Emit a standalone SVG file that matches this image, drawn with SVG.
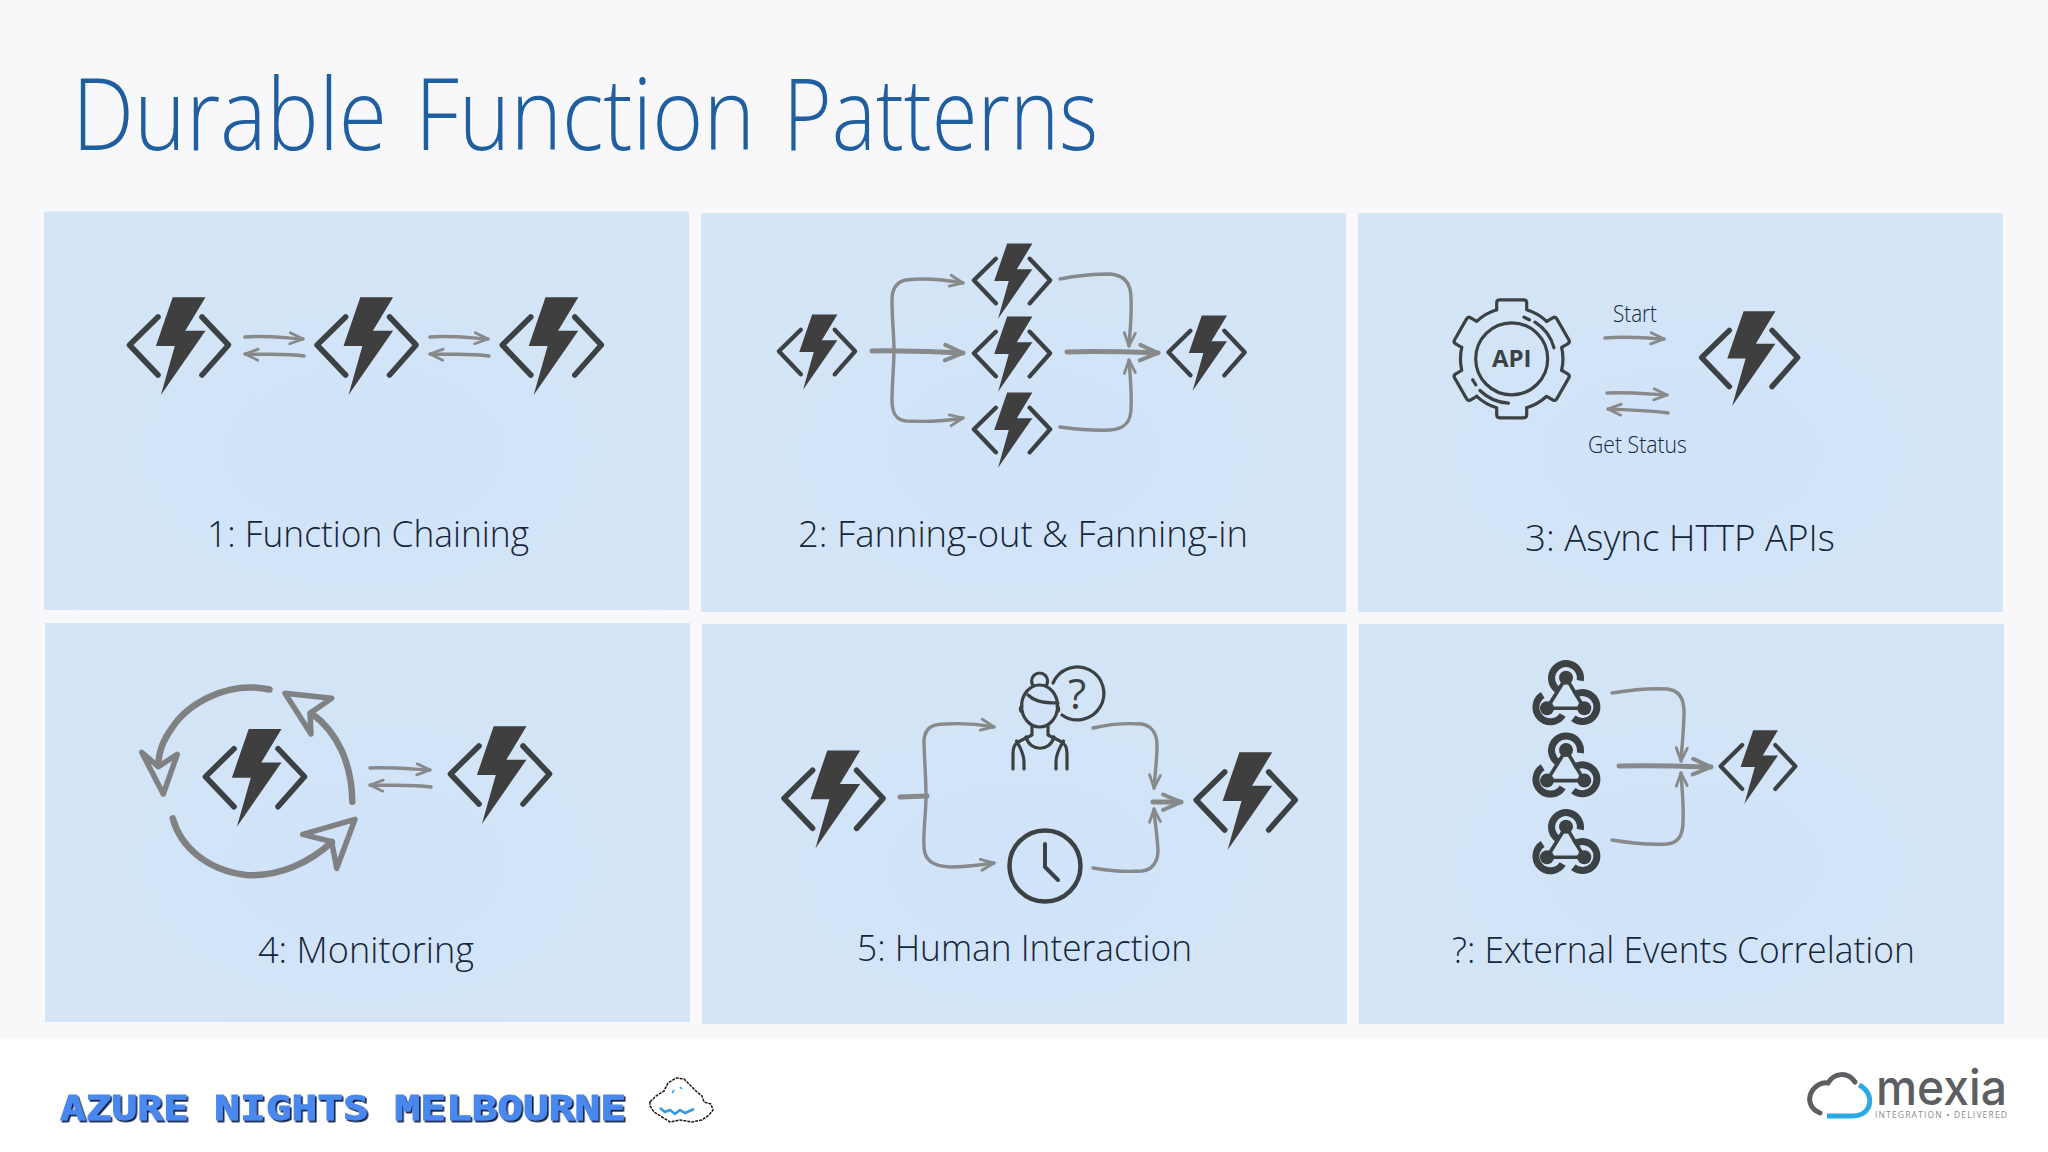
<svg xmlns="http://www.w3.org/2000/svg" width="2048" height="1152" viewBox="0 0 2048 1152">
<style>
.panel{fill:url(#pg)}
.title{font-family:"Open Sans","Liberation Sans",sans-serif;font-weight:300;font-size:99px;fill:#1f5f9f}
.label{font-family:"Open Sans","Liberation Sans",sans-serif;font-weight:300;font-size:37px;fill:#15263a}
.small{font-family:"Open Sans","Liberation Sans",sans-serif;font-weight:300;font-size:23px;fill:#15263a}
.bolt{fill:#3f3f40}
.br{fill:none;stroke:#3c4144;stroke-width:5.6;stroke-linecap:round;stroke-linejoin:round}
.c{fill:none;stroke:#87898b;stroke-width:3.4;stroke-linecap:round;stroke-linejoin:round}
.cm{marker-end:url(#am)}
.t{fill:none;stroke:#87898b;stroke-width:5;stroke-linecap:round;marker-end:url(#al)}
.loop{fill:none;stroke:#808183;stroke-width:6.5;stroke-linecap:round;stroke-linejoin:round}
.tri{fill:none;stroke:#808183;stroke-width:5.5;stroke-linecap:round;stroke-linejoin:round}
.ic{fill:none;stroke:#3c4144;stroke-width:3.2;stroke-linecap:round;stroke-linejoin:round}
.wh{fill:none;stroke:#3c4144;stroke-width:7;stroke-linecap:butt}
.wl{fill:none;stroke:#3c4144;stroke-width:3.6}
.dot{fill:#3c4144}
</style>
<defs>
<radialGradient id="pg" cx="50%" cy="60%" r="65%"><stop offset="0" stop-color="#d1e3f9"/><stop offset="1" stop-color="#d4e5f5"/></radialGradient>
<marker id="am" markerUnits="userSpaceOnUse" markerWidth="24" markerHeight="24" viewBox="-20 -12 24 24" refX="0" refY="0" orient="auto"><path d="M-13,-5.5 L0,0 L-13,5.5" fill="none" stroke="#87898b" stroke-width="2.8" stroke-linecap="round" stroke-linejoin="round"/></marker>
<marker id="al" markerUnits="userSpaceOnUse" markerWidth="30" markerHeight="30" viewBox="-24 -15 30 30" refX="0" refY="0" orient="auto"><path d="M-18,-7.5 L0,0 L-18,8" fill="none" stroke="#87898b" stroke-width="4" stroke-linecap="round" stroke-linejoin="round"/></marker>
<filter id="px" x="-2%" y="-20%" width="104%" height="140%"><feDropShadow dx="1.6" dy="1.8" stdDeviation="0" flood-color="#0e1c44"/></filter>
<g id="fn">
<path class="bolt" d="M-6.3,-48.7 L26.5,-48.7 L6.3,-15.3 L26.5,-15.3 L-18.1,49 L-4.2,0 L-23.1,0 Z"/>
<path class="br" d="M-21,-29 L-49.5,-1 L-21,29 M23,-29 L49.5,-1 L23,29"/>
</g>
<g id="hook">
<path class="wl" d="M0,-17.3 L-19,13.3 L18.3,13.3 Z"/>
<circle class="dot" cx="0" cy="-17.3" r="7"/><circle class="dot" cx="-19" cy="13.3" r="7"/><circle class="dot" cx="18.3" cy="13.3" r="7"/>
<path class="wh" d="M14.3,-14.3 A14.5,14.5 0 1 0 -8.3,-5 M-23.3,0 A14.5,14.5 0 1 0 -3.3,20 M7.3,23.3 A14.5,14.5 0 1 0 8.3,0"/>
</g>
<path id="tooth" d="M-15,-49 V-56 Q-15,-59 -12,-59 H12 Q15,-59 15,-56 V-49 A51.2,51.2 0 0 1 34.9,-37.5" class="ic"/>
</defs>
<rect width="2048" height="1152" fill="#f8f8fa"/>
<rect y="1038" width="2048" height="114" fill="#ffffff"/>
<text class="title" y="150"><tspan x="72" textLength="315" lengthAdjust="spacingAndGlyphs">Durable</tspan> <tspan x="415" textLength="340" lengthAdjust="spacingAndGlyphs">Function</tspan> <tspan x="783" textLength="315" lengthAdjust="spacingAndGlyphs">Patterns</tspan></text>

<g id="panel-1"><rect class="panel" x="44" y="211.5" width="645" height="398.5"/><text class="label" x="207" y="547" textLength="322" lengthAdjust="spacingAndGlyphs">1: Function Chaining</text></g>
<g id="panel-2"><rect class="panel" x="701" y="213" width="645" height="399"/><text class="label" x="798" y="547" textLength="450" lengthAdjust="spacingAndGlyphs">2: Fanning-out &amp; Fanning-in</text></g>
<g id="panel-3"><rect class="panel" x="1358" y="213" width="645" height="399"/><text class="label" x="1525" y="551" textLength="310" lengthAdjust="spacingAndGlyphs">3: Async HTTP APIs</text></g>
<g id="panel-4"><rect class="panel" x="45" y="623" width="645" height="399"/><text class="label" x="258" y="963" textLength="216" lengthAdjust="spacingAndGlyphs">4: Monitoring</text></g>
<g id="panel-5"><rect class="panel" x="702" y="624" width="645" height="400"/><text class="label" x="857" y="961" textLength="335" lengthAdjust="spacingAndGlyphs">5: Human Interaction</text></g>
<g id="panel-6"><rect class="panel" x="1359" y="624" width="645" height="400"/><text class="label" x="1452" y="963" textLength="463" lengthAdjust="spacingAndGlyphs">?: External Events Correlation</text></g>

<g id="connectors">
<path class="c cm" d="M245,337 C265,335 285,338 303,339"/>
<path class="c cm" d="M304,356 C285,353 265,355 245,354"/>
<path class="c cm" d="M430,337 C450,335 470,338 488,339"/>
<path class="c cm" d="M489,356 C470,353 450,355 430,354"/>
<path class="c cm" d="M894,350 C894,335 892,320 892,300 C892,290 896,282 906,280 C921,278 941,279 963,283"/>
<path class="c cm" d="M894,350 C894,365 892,385 892,400 C892,412 895,420 906,421 C926,422 946,421 963,418"/>
<path class="t" d="M872,351 C900,350 935,352 963,353"/>
<path class="c cm" d="M1060,279 C1075,276 1095,274 1110,274 C1125,275 1131,284 1131,298 C1132,315 1130,330 1129,346"/>
<path class="c cm" d="M1060,427 C1075,429 1095,431 1110,430 C1125,429 1131,422 1131,408 C1132,392 1130,375 1129,360"/>
<path class="t" d="M1067,352 C1095,351 1130,352 1158,353"/>
<path class="c cm" d="M1605,338 C1625,336 1645,338 1664,339"/>
<path class="c cm" d="M1607,393 C1627,392 1647,394 1667,395"/>
<path class="c cm" d="M1668,413 C1648,410 1628,410 1608,409"/>
<path class="c cm" d="M370,768 C390,767 410,769 430,770"/>
<path class="c cm" d="M431,787 C410,784 390,786 370,785"/>
<path class="loop" d="M269.5,689.5 C225,680 186,706 172,728 C162,742 159,752 158,765"/>
<path class="tri" d="M141.7,752.3 L163.3,794 L177.3,754.3 L158.3,766.7 Z"/>
<path class="loop" d="M352.3,801.7 C352,765 338,732 311,713"/>
<path class="tri" d="M285,693.3 L331.7,698.3 L310,713.3 L311,734 Z"/>
<path class="loop" d="M172.7,818.3 C180,845 205,870 246,875 C280,877 310,862 332,842"/>
<path class="tri" d="M302.7,834.3 L355,819.3 L336.7,868.3 L331.7,841.7 Z"/>
<path class="c" style="stroke-width:5" d="M900,797 L927,796"/>
<path class="c cm" d="M926,796 C926,775 924,755 924,740 C925,728 932,724 945,724 C960,723 978,724 994,727"/>
<path class="c cm" d="M926,796 C926,815 923,830 924,848 C925,860 932,866 950,867 C965,867 980,865 994,863"/>
<path class="c cm" d="M1093,728 C1110,724 1128,723 1142,724 C1152,726 1157,734 1157,745 C1157,760 1155,775 1154,788"/>
<path class="c cm" d="M1093,868 C1110,871 1128,872 1142,871 C1152,870 1158,862 1158,850 C1157,835 1155,822 1154,809"/>
<path class="t" d="M1153,802 L1181,802"/>
<path class="c cm" d="M1612,693 C1630,690 1650,688 1667,689 C1678,690 1684,698 1684,712 C1684,728 1682,745 1681,761"/>
<path class="c cm" d="M1612,840 C1630,843 1650,845 1667,844 C1678,843 1683,835 1683,822 C1684,805 1682,790 1681,773"/>
<path class="t" d="M1619,766 C1650,765 1680,766 1711,767"/>
</g>

<g id="fn-1a"><use href="#fn" transform="translate(179,346)"/></g>
<g id="fn-1b"><use href="#fn" transform="translate(366.6,346)"/></g>
<g id="fn-1c"><use href="#fn" transform="translate(551.8,346)"/></g>
<g id="fn-2a"><use href="#fn" transform="translate(817,352) scale(.77)"/></g>
<g id="fn-2b"><use href="#fn" transform="translate(1012,281) scale(.77)"/></g>
<g id="fn-2c"><use href="#fn" transform="translate(1012,354) scale(.77)"/></g>
<g id="fn-2d"><use href="#fn" transform="translate(1012,430) scale(.77)"/></g>
<g id="fn-2e"><use href="#fn" transform="translate(1206.6,353) scale(.77)"/></g>

<g id="api">
<g transform="translate(1511.7,358.8)">
<use href="#tooth"/><use href="#tooth" transform="rotate(60)"/><use href="#tooth" transform="rotate(120)"/><use href="#tooth" transform="rotate(180)"/><use href="#tooth" transform="rotate(240)"/><use href="#tooth" transform="rotate(300)"/>
<circle class="ic" r="36"/>
<path class="ic" d="M12.3,-41.7 L17.7,-39 M23.3,-36.7 A43.5,43.5 0 0 1 42.3,-11 M-39,21 L-36,26 M-31.7,31.7 A43.5,43.5 0 0 0 -3.3,44.3"/>
<text x="0" y="8" text-anchor="middle" font-family="'Open Sans','Liberation Sans',sans-serif" font-weight="700" font-size="24" fill="#3c4144">API</text>
</g>
</g>
<g id="fn-3"><use href="#fn" transform="translate(1749.7,358.5) scale(.97)"/></g>
<text class="small" x="1613" y="321.5" textLength="44" lengthAdjust="spacingAndGlyphs">Start</text>
<text class="small" x="1588" y="453" textLength="99" lengthAdjust="spacingAndGlyphs">Get Status</text>

<g id="fn-4a"><use href="#fn" transform="translate(255,777.7)"/></g>
<g id="fn-4b"><use href="#fn" transform="translate(500,775)"/></g>

<g id="fn-5a"><use href="#fn" transform="translate(833.6,799.3)"/></g>
<g id="fn-5b"><use href="#fn" transform="translate(1245.7,801)"/></g>
<g id="person">
<circle class="ic" cx="1039.6" cy="681" r="8"/>
<ellipse class="ic" cx="1039.6" cy="706" rx="18" ry="21" style="fill:#d2e3f7"/>
<path class="ic" d="M1028,695 C1033,700 1040,703 1058,703 M1022,706 A3.5,3.5 0 0 0 1022,712 M1057,706 A3.5,3.5 0 0 1 1057,712"/>
<path class="ic" d="M1032,726 V735 L1020,741 C1014,744 1013,748 1013,754 V769 M1048,726 V735 L1060,741 C1066,744 1067,748 1067,754 V769"/>
<path class="ic" d="M1026,737 C1030,752 1050,752 1054,737 M1016.5,741 C1022,750 1024,755 1024,762 V769 M1063.5,741 C1058,750 1056,755 1056,762 V769"/>
<path class="ic" d="M1053,683 A26.5,26.5 0 1 1 1062,715"/>
<text x="1077" y="709" text-anchor="middle" font-family="'Open Sans','Liberation Sans',sans-serif" font-weight="400" font-size="42" fill="#3c4144">?</text>
</g>
<g id="clock">
<circle cx="1045" cy="866" r="35.5" fill="none" stroke="#3c4144" stroke-width="4.5"/>
<path d="M1045,844 V867 L1058,880" fill="none" stroke="#3c4144" stroke-width="4" stroke-linecap="round" stroke-linejoin="round"/>
</g>

<g id="hook-1"><use href="#hook" transform="translate(1566,695)"/></g>
<g id="hook-2"><use href="#hook" transform="translate(1566,767.3)"/></g>
<g id="hook-3"><use href="#hook" transform="translate(1566,844)"/></g>
<g id="fn-6"><use href="#fn" transform="translate(1758,767) scale(.755)"/></g>

<g id="brand">
<text x="60" y="1120" font-family="'DejaVu Sans Mono','Liberation Mono',monospace" font-weight="700" font-size="34" fill="#4a88ee" stroke="#4a88ee" stroke-width="1" filter="url(#px)" textLength="566" lengthAdjust="spacingAndGlyphs">AZURE NIGHTS MELBOURNE</text>
<path d="M650,1102 L656,1096 L664,1091 L668,1083 L676,1078 L684,1079 L690,1085 L696,1091 L702,1096 L704,1102 L711,1104 L713,1110 L709,1115 L702,1120 L692,1122 L680,1120 L670,1122 L662,1117 L654,1112 L650,1106 Z" fill="#ffffff" stroke="#1a1a1a" stroke-width="1.5" stroke-dasharray="3 1"/>
<path d="M660,1108 L665,1112 L670,1110 L675,1114 L680,1110 L685,1113 L694,1109" fill="none" stroke="#2b9be8" stroke-width="2.5"/>
<path d="M674,1090 L672,1093 M680,1087 L682,1089" fill="none" stroke="#2b9be8" stroke-width="1.5"/>
</g>
<g id="mexia">
<path d="M1820,1113 C1810,1109 1808,1100 1811,1093 C1815,1085 1822,1082 1828,1083 C1834,1073 1847,1071 1855,1082" fill="none" stroke="#5c5e61" stroke-width="5" stroke-linecap="round"/>
<path d="M1859,1085 C1869,1090 1872,1100 1868,1108 C1865,1114 1860,1116 1852,1116 H1827" fill="none" stroke="#2ba9e1" stroke-width="5"/>
<text x="1876" y="1105" font-family="Inter,'Open Sans','Liberation Sans',sans-serif" font-weight="500" font-size="49" fill="#5c5e61" textLength="131" lengthAdjust="spacingAndGlyphs">mexia</text>
<text x="1875" y="1117.5" font-family="'Open Sans','Liberation Sans',sans-serif" font-size="8.5" fill="#8a8c8e" textLength="132">INTEGRATION • DELIVERED</text>
</g>
</svg>
